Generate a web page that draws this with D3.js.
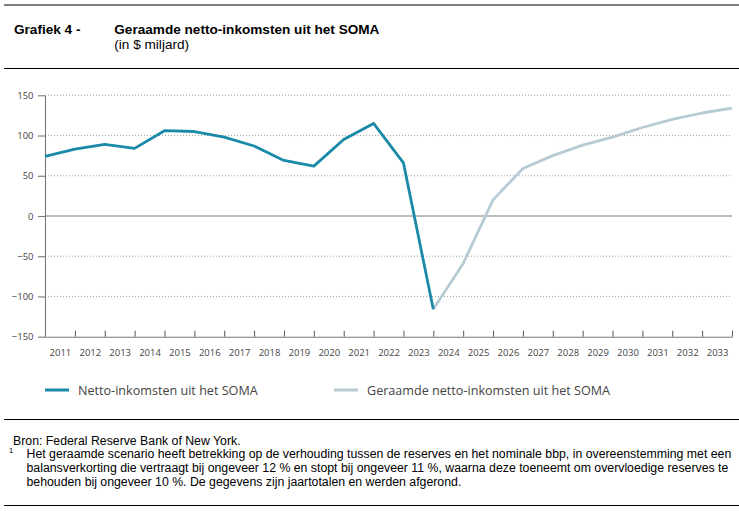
<!DOCTYPE html>
<html>
<head>
<meta charset="utf-8">
<script src="https://cdn.jsdelivr.net/npm/d3@7"></script>
<style>
  html, body { margin: 0; padding: 0; background: #fff; }
  svg { display: block; }
</style>
</head>
<body>
<svg id="chart" width="739" height="511"></svg>
<script>
// ---- data ----
const chartNumber = "Grafiek 4 -";
const chartTitle = "Geraamde netto-inkomsten uit het SOMA";
const chartUnit = "(in $ miljard)";
const yearLabels = [2011,2012,2013,2014,2015,2016,2017,2018,2019,2020,2021,2022,2023,2024,2025,2026,2027,2028,2029,2030,2031,2032,2033];
// values at year end (year 2010 = end of 2010 / start of 2011)
const actualYears = [2010,2011,2012,2013,2014,2015,2016,2017,2018,2019,2020,2021,2022,2023];
const actualValues = [74,83,89,84,106,105,98,87,69,62,95,115,66,-116];
const projectedYears = [2023,2024,2025,2026,2027,2028,2029,2030,2031,2032,2033];
const projectedValues = [-116,-59,20,59,75,88,98,110,120,128,134];
const yTicks = [150,100,50,0,-50,-100,-150];
const seriesNames = ["Netto-inkomsten uit het SOMA", "Geraamde netto-inkomsten uit het SOMA"];
const sourceText = "Bron: Federal Reserve Bank of New York.";
const footnoteLines = [
  "Het geraamde scenario heeft betrekking op de verhouding tussen de reserves en het nominale bbp, in overeenstemming met een",
  "balansverkorting die vertraagt bij ongeveer 12 % en stopt bij ongeveer 11 %, waarna deze toeneemt om overvloedige reserves te",
  "behouden bij ongeveer 10 %. De gegevens zijn jaartotalen en werden afgerond."
];

(function () {
// ---- layout ----
const svg = d3.select("#chart");
const pLeft = 45, pRight = 732, pTop = 95.3, pBottom = 336.7;
const colActual = "#1a8aa8", colProj = "#b7cbd4";
const axisFont = "'Open Sans', sans-serif";
const headFont = "'Liberation Sans', Arial, sans-serif";

const x = d3.scaleLinear().domain([2010.5, 2033.5]).range([pLeft, pRight]);
const y = d3.scaleLinear().domain([-150, 150]).range([pBottom, pTop]);

// header rules
svg.append("line").attr("x1", 4).attr("x2", 739).attr("y1", 5).attr("y2", 5).attr("stroke", "#000").attr("stroke-width", 1);
svg.append("line").attr("x1", 4).attr("x2", 739).attr("y1", 68.5).attr("y2", 68.5).attr("stroke", "#000").attr("stroke-width", 1);
svg.append("text").attr("x", 14).attr("y", 33.5).attr("font-family", headFont).attr("font-size", 13.6).attr("font-weight", "bold").attr("fill", "#000").text(chartNumber);
svg.append("text").attr("x", 114.3).attr("y", 33.5).attr("font-family", headFont).attr("font-size", 13.6).attr("font-weight", "bold").attr("fill", "#000").text(chartTitle);
svg.append("text").attr("x", 114.3).attr("y", 48.5).attr("font-family", headFont).attr("font-size", 13.6).attr("fill", "#000").text(chartUnit);

// grid
const grid = svg.append("g");
grid.selectAll("line").data(yTicks.filter(v => v !== 0 && v !== -150)).join("line")
  .attr("x1", pLeft).attr("x2", pRight)
  .attr("y1", d => y(d)).attr("y2", d => y(d))
  .attr("stroke", "#8a8a8a").attr("stroke-width", 0.8).attr("stroke-dasharray", "1,2");
svg.append("line").attr("x1", pLeft).attr("x2", pRight).attr("y1", y(0)).attr("y2", y(0))
  .attr("stroke", "#7a7a7a").attr("stroke-width", 1.2);

// y axis
const yAxis = svg.append("g").attr("transform", `translate(${pLeft},0)`)
  .call(d3.axisLeft(y).tickValues(yTicks).tickSize(7).tickSizeOuter(0).tickPadding(4.5)
    .tickFormat(d => d < 0 ? "\u2212" + Math.abs(d) : String(d)));
yAxis.select(".domain").attr("stroke", "#777").attr("stroke-width", 1.1);
yAxis.selectAll(".tick line").attr("stroke", "#777").attr("stroke-width", 1.1);
yAxis.selectAll("text").attr("font-family", axisFont).attr("font-size", 9.5).attr("fill", "#444");

// x axis labels
const xAxis = svg.append("g").attr("transform", `translate(0,${pBottom})`)
  .call(d3.axisBottom(x).tickValues(yearLabels).tickSize(0).tickSizeOuter(0).tickPadding(12.5).tickFormat(d3.format("d")));
xAxis.select(".domain").attr("stroke", "#777").attr("stroke-width", 1.1);
xAxis.selectAll("text").attr("font-family", axisFont).attr("font-size", 9.5).attr("fill", "#444");
// x tick marks (between labels)
const xTicks = svg.append("g").attr("transform", `translate(0,${pBottom})`)
  .call(d3.axisBottom(x).tickValues(yearLabels.map(v => v + 0.5)).tickSize(-6).tickSizeOuter(0).tickFormat(""));
xTicks.select(".domain").remove();
xTicks.selectAll(".tick line").attr("stroke", "#555").attr("stroke-width", 1);

// lines
const line = d3.line().x(d => x(d[0] + 0.5)).y(d => y(d[1]));
svg.append("path").datum(projectedYears.map((yr, i) => [yr, projectedValues[i]]))
  .attr("d", line).attr("fill", "none").attr("stroke", colProj).attr("stroke-width", 2.8).attr("stroke-linejoin", "round");
svg.append("path").datum(actualYears.map((yr, i) => [yr, actualValues[i]]))
  .attr("d", line).attr("fill", "none").attr("stroke", colActual).attr("stroke-width", 2.8).attr("stroke-linejoin", "round");

// legend
const legend = [
  { name: seriesNames[0], color: colActual, x: 45 },
  { name: seriesNames[1], color: colProj, x: 334 }
];
const lg = svg.append("g").selectAll("g").data(legend).join("g");
lg.append("line").attr("x1", d => d.x).attr("x2", d => d.x + 24).attr("y1", 390).attr("y2", 390)
  .attr("stroke", d => d.color).attr("stroke-width", 3);
lg.append("text").attr("x", d => d.x + 33).attr("y", 394.5).attr("font-family", axisFont).attr("font-size", 12.6)
  .attr("fill", "#444").text(d => d.name);

// footer
svg.append("line").attr("x1", 4).attr("x2", 739).attr("y1", 419.5).attr("y2", 419.5).attr("stroke", "#000").attr("stroke-width", 1);
svg.append("line").attr("x1", 4).attr("x2", 739).attr("y1", 505.5).attr("y2", 505.5).attr("stroke", "#000").attr("stroke-width", 1);
svg.append("text").attr("x", 13).attr("y", 445).attr("font-family", headFont).attr("font-size", 12.3).attr("fill", "#000").text(sourceText);
svg.append("text").attr("x", 9).attr("y", 452.5).attr("font-family", headFont).attr("font-size", 7.5).attr("fill", "#000").text("1");
svg.append("g").selectAll("text").data(footnoteLines).join("text")
  .attr("x", 26.5).attr("y", (d, i) => 457.5 + i * 14)
  .attr("font-family", headFont).attr("font-size", 12.3).attr("fill", "#000").text(d => d);
})();
</script>
</body>
</html>
